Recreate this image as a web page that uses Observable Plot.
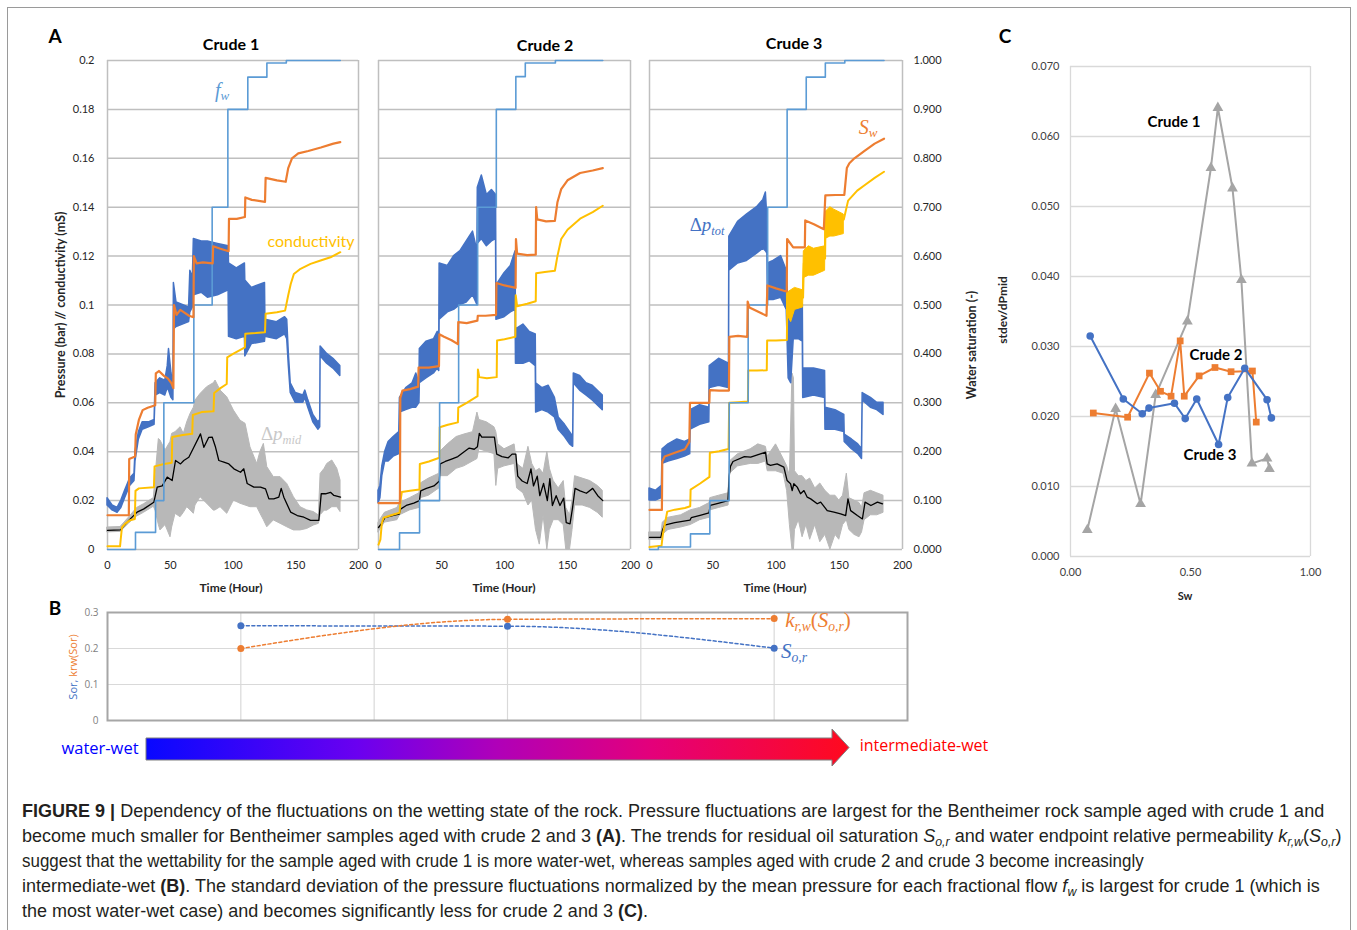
<!DOCTYPE html>
<html><head><meta charset="utf-8">
<script src="https://cdn.jsdelivr.net/npm/d3@7"></script>
<script src="https://cdn.jsdelivr.net/npm/@observablehq/plot@0.6"></script>
<style>
body{margin:0;background:#fff;}
#root{position:relative;width:1357px;height:930px;overflow:hidden;font-family:Lato,"Open Sans",sans-serif;background:#fff;}
.abs{position:absolute;white-space:nowrap;line-height:1;}
.m{font-family:"Liberation Serif","DejaVu Serif",serif;font-style:italic;}
.m sub{font-size:65%;vertical-align:-0.3em;}
</style></head><body><div id="root"></div>
<script>
// ================= DATA =================
// Panel A axes
const timeTicks = [0, 50, 100, 150, 200];
const pTicks = [0, 0.02, 0.04, 0.06, 0.08, 0.1, 0.12, 0.14, 0.16, 0.18, 0.2];
const swTicks = [0, 0.1, 0.2, 0.3, 0.4, 0.5, 0.6, 0.7, 0.8, 0.9, 1.0];

// ---- Crude 1 : [time h, value] ----
const c1Fw = [[0,0],[22.3,0.035],[38.3,0.10],[44.9,0.30],[68.8,0.50],[83.4,0.70],[95.9,0.90],[111.8,0.966],[127,0.995],[142.5,1.0],[185.5,1.0]];
const c1Sw = [[0,0.07],[17,0.07],[17.3,0.185],[22,0.19],[22.5,0.235],[25,0.265],[28,0.285],[32,0.29],[38,0.295],[38.5,0.36],[41,0.365],[45,0.355],[48,0.35],[51,0.34],[52.5,0.33],[53,0.50],[55,0.48],[58,0.49],[61,0.485],[65,0.478],[68.5,0.475],[68.8,0.60],[71,0.585],[76,0.587],[83.8,0.585],[84.2,0.62],[90,0.615],[96.5,0.61],[96.8,0.676],[103,0.676],[109.5,0.68],[109.8,0.72],[115,0.715],[125.5,0.711],[126,0.76],[135,0.755],[142,0.752],[144,0.78],[147,0.80],[152,0.81],[160,0.815],[170,0.822],[180,0.83],[185.5,0.833]];
const c1Cond = [[0,0.0013],[10,0.0013],[10.5,0.004],[11.5,0.009],[14,0.0105],[18,0.012],[21.8,0.0125],[22.3,0.024],[25,0.025],[37,0.0255],[37.5,0.034],[45,0.035],[51.2,0.0355],[51.6,0.046],[60,0.0468],[67.5,0.0473],[68,0.055],[75,0.0562],[84.5,0.0565],[85,0.064],[90,0.066],[95,0.0677],[95.4,0.0786],[100,0.080],[109.5,0.0827],[109.8,0.0882],[118,0.0885],[125.5,0.0889],[126,0.0964],[135,0.097],[141.5,0.0977],[144,0.104],[146,0.1086],[148.5,0.1127],[153.8,0.1148],[161.8,0.1168],[169.8,0.1182],[177.7,0.1195],[185.5,0.1216]];
// [time, low, high] of the fluctuating total pressure drop
const c1Ptot = [[0,0.018,0.021],[4,0.016,0.018],[8,0.015,0.017],[11,0.017,0.020],[14,0.021,0.024],[18,0.026,0.029],[21.5,0.028,0.031],[22.3,0.036,0.040],[25,0.045,0.048],[28,0.049,0.052],[33,0.050,0.052],[37.5,0.051,0.053],[38.3,0.063,0.068],[42,0.064,0.070],[46,0.063,0.069],[48,0.066,0.075],[49,0.065,0.082],[51,0.062,0.072],[52.5,0.061,0.068],[52.9,0.090,0.109],[55,0.091,0.101],[60,0.092,0.100],[65,0.093,0.099],[66,0.097,0.114],[68,0.099,0.111],[68.8,0.104,0.127],[75,0.105,0.126],[80,0.103,0.126],[88,0.104,0.125],[96.5,0.106,0.124],[96.8,0.087,0.117],[103,0.086,0.115],[109.5,0.087,0.117],[109.8,0.079,0.110],[115,0.084,0.107],[125.5,0.085,0.109],[125.8,0.087,0.094],[135,0.086,0.093],[141.5,0.088,0.095],[143.2,0.086,0.094],[144.5,0.075,0.080],[146,0.064,0.068],[150,0.060,0.064],[156,0.060,0.063],[157.6,0.062,0.065],[160,0.058,0.061],[164,0.052,0.055],[168,0.049,0.052],[169.5,0.050,0.053],[169.8,0.079,0.083],[175,0.076,0.080],[180,0.074,0.078],[185.5,0.071,0.075]];
const c1Pmid = [[0,0.0070,0.0090],[10.4,0.0072,0.0092],[17,0.0105,0.0130],[23.6,0.0135,0.0170],[29,0.0150,0.0185],[36.9,0.0175,0.0210],[38.3,0.0159,0.0300],[40.9,0.0100,0.0452],[42.2,0.0078,0.0446],[46.2,0.0100,0.0405],[50.2,0.0050,0.0440],[51.5,0.0090,0.0473],[54.2,0.0146,0.0480],[58.2,0.0132,0.0500],[60.8,0.0150,0.0473],[63.5,0.0173,0.0520],[66.2,0.0160,0.0555],[68.8,0.0146,0.0580],[70.1,0.0180,0.0609],[74.1,0.0214,0.0636],[79.4,0.0187,0.0664],[84.7,0.0159,0.0680],[86.1,0.0160,0.0691],[90.1,0.0173,0.0650],[95.4,0.0146,0.0623],[100.7,0.0200,0.0568],[106,0.0187,0.0527],[110,0.0180,0.0514],[113.9,0.0173,0.0418],[119.3,0.0173,0.0350],[121.9,0.0146,0.0400],[124.6,0.0120,0.0432],[127.3,0.0091,0.0337],[132.5,0.0119,0.0296],[137.9,0.0105,0.0296],[143.2,0.0091,0.0268],[148.5,0.0078,0.0214],[153.8,0.0078,0.0173],[159.1,0.0084,0.0160],[164.4,0.0098,0.0153],[168.4,0.0105,0.0139],[169.8,0.0140,0.0309],[173,0.0159,0.0330],[175.1,0.0159,0.0350],[179.1,0.0173,0.0364],[183.1,0.0173,0.0330],[185.7,0.0153,0.0282]];
const c1PmidAvg = [[0,0.0078],[10.4,0.008],[17,0.0119],[23.6,0.0153],[29,0.0166],[36.9,0.0193],[39.6,0.0255],[43.6,0.026],[47.6,0.0296],[51.5,0.0282],[54.2,0.0364],[58.2,0.035],[60.8,0.0364],[64.8,0.0377],[68.8,0.0418],[74.1,0.0473],[76.8,0.0418],[80.7,0.0459],[83.4,0.046],[86.1,0.0418],[88.7,0.0364],[92.7,0.0357],[96.7,0.035],[100.7,0.033],[106,0.0316],[108.6,0.033],[111.3,0.027],[116.6,0.0255],[121.9,0.0255],[125.9,0.0248],[128.6,0.0207],[132.5,0.0207],[136.5,0.0214],[138.4,0.025],[140.5,0.0214],[145.9,0.0153],[151.2,0.0139],[156.5,0.0132],[161.8,0.0119],[168.4,0.0119],[170.3,0.0228],[173.7,0.0228],[177.7,0.0234],[180.4,0.0221],[185.7,0.0214]];

// ---- Crude 2 ----
const c2Fw = [[0,0],[16.7,0.034],[32.6,0.10],[48.5,0.30],[63.6,0.50],[78.7,0.70],[93.5,0.90],[109,0.967],[116.5,0.995],[140.4,1.0],[178,1.0]];
const c2Sw = [[0,0.095],[17,0.095],[17.3,0.31],[19,0.325],[25,0.328],[31.5,0.333],[31.8,0.372],[40,0.372],[48,0.375],[48.3,0.44],[52,0.435],[58,0.428],[63,0.42],[63.3,0.465],[70,0.463],[78.5,0.468],[78.8,0.478],[85,0.478],[93.3,0.48],[93.6,0.545],[100,0.54],[108.8,0.535],[109.1,0.635],[110,0.605],[118,0.602],[124.8,0.603],[125.1,0.70],[126,0.675],[133,0.671],[140,0.672],[142,0.71],[145,0.737],[150,0.755],[160,0.77],[170,0.775],[178,0.78]];
const c2Cond = [[0,0.002],[1.5,0.004],[2.6,0.0106],[4,0.013],[10,0.014],[16.7,0.015],[17.5,0.020],[18.5,0.0235],[25,0.024],[32.5,0.0245],[32.8,0.035],[40,0.036],[48.3,0.0375],[48.6,0.050],[55,0.051],[63,0.052],[63.3,0.058],[70,0.060],[78.6,0.0627],[78.9,0.0736],[80,0.0705],[86,0.070],[93.8,0.0705],[94.1,0.0855],[100,0.086],[108.6,0.087],[108.9,0.104],[110,0.0995],[118,0.1005],[124.8,0.1015],[125.1,0.113],[132,0.1135],[140,0.114],[142,0.120],[145,0.127],[150,0.1308],[160,0.1353],[170,0.138],[178,0.1406]];
const c2Ptot = [[0,0.019,0.024],[1.5,0.021,0.026],[3,0.030,0.034],[5.3,0.036,0.040],[8,0.036,0.044],[12,0.038,0.046],[16.5,0.039,0.048],[17,0.056,0.062],[22,0.057,0.066],[27,0.058,0.068],[30,0.058,0.072],[32.5,0.060,0.068],[32.8,0.068,0.082],[38,0.070,0.085],[44,0.072,0.086],[47,0.074,0.089],[48.2,0.073,0.082],[48.5,0.094,0.117],[55,0.097,0.116],[60,0.098,0.120],[65,0.100,0.122],[70,0.101,0.126],[75,0.104,0.130],[78.5,0.100,0.122],[78.8,0.125,0.148],[82,0.127,0.153],[86,0.124,0.145],[90,0.126,0.147],[93.3,0.127,0.145],[93.6,0.094,0.108],[100,0.095,0.113],[105,0.097,0.116],[108.8,0.098,0.122],[109.1,0.076,0.090],[115,0.076,0.092],[120,0.077,0.089],[124.8,0.075,0.088],[125.1,0.056,0.068],[130,0.057,0.066],[135,0.056,0.067],[140,0.054,0.062],[143,0.049,0.054],[148,0.046,0.051],[152,0.043,0.048],[154.5,0.042,0.046],[155,0.068,0.072],[160,0.065,0.071],[165,0.063,0.068],[170,0.061,0.067],[178,0.057,0.063]];
const c2Pmid = [[0,0.007,0.011],[5,0.011,0.015],[15,0.012,0.017],[17,0.014,0.019],[25,0.016,0.021],[32.5,0.017,0.023],[33.5,0.021,0.027],[40,0.022,0.029],[48.3,0.025,0.031],[49,0.030,0.040],[55,0.030,0.043],[62,0.033,0.046],[68,0.034,0.047],[75,0.036,0.048],[78.5,0.037,0.056],[80,0.041,0.053],[86,0.040,0.052],[92,0.039,0.050],[93.5,0.026,0.048],[95,0.033,0.043],[100,0.034,0.041],[108,0.035,0.043],[110,0.025,0.035],[115,0.023,0.033],[119,0.018,0.042],[122,0.020,0.035],[125,0.008,0.032],[128,0.002,0.033],[131,0.014,0.031],[134,0.0,0.040],[136,0.008,0.033],[139,0.012,0.028],[143,0.012,0.025],[147,0.010,0.028],[149,0.0,0.017],[152,0.0,0.014],[154,0.008,0.020],[156,0.018,0.030],[162,0.018,0.029],[168,0.017,0.028],[174,0.015,0.026],[178,0.013,0.024]];
const c2PmidAvg = [[0,0.009],[3,0.011],[5,0.013],[12,0.014],[16.5,0.0145],[17.5,0.0165],[22,0.018],[28,0.019],[32.5,0.020],[33.5,0.024],[38,0.025],[44,0.026],[48.3,0.028],[49,0.035],[53,0.036],[58,0.037],[63,0.038],[68,0.040],[72,0.0415],[76,0.041],[78.5,0.042],[80,0.0475],[82,0.046],[86,0.046],[92,0.046],[93.8,0.039],[98,0.038],[103,0.0375],[106,0.039],[109,0.039],[110.5,0.030],[114,0.028],[118,0.027],[121,0.033],[123,0.026],[126,0.030],[128,0.022],[131,0.027],[134,0.020],[136,0.029],[138,0.018],[141,0.022],[144,0.018],[147,0.021],[149,0.011],[152,0.0105],[154,0.017],[156,0.025],[160,0.024],[165,0.023],[170,0.025],[174,0.022],[178,0.020]];

// ---- Crude 3 ----
const c3Fw = [[0,0],[7,0.005],[32.4,0.032],[47.7,0.10],[63,0.30],[78,0.50],[93.4,0.70],[108.8,0.90],[123.9,0.966],[139,0.995],[154.4,1.0],[185.4,1.0]];
const c3Sw = [[0,0.081],[9.8,0.081],[10.1,0.18],[12,0.19],[20,0.198],[28,0.205],[31.5,0.22],[32,0.30],[40,0.30],[47.3,0.30],[47.6,0.326],[55,0.325],[62.8,0.325],[63.1,0.435],[70,0.437],[77.3,0.435],[77.6,0.507],[79,0.495],[86,0.486],[92.5,0.478],[93.2,0.54],[100,0.534],[106.2,0.529],[108.5,0.528],[108.8,0.635],[113.6,0.618],[122.8,0.618],[123.1,0.673],[130,0.665],[137.8,0.655],[139,0.724],[147,0.725],[154,0.725],[156,0.78],[158,0.79],[162,0.80],[170,0.815],[178,0.83],[185.4,0.84]];
const c3Cond = [[0,0.001],[9.5,0.0015],[10.5,0.006],[11.5,0.0086],[14,0.0155],[20,0.0163],[28,0.017],[32.2,0.0177],[32.5,0.0245],[40,0.027],[47.4,0.0297],[47.7,0.0396],[55,0.0402],[61.5,0.041],[62.5,0.041],[63,0.060],[70,0.0602],[77.8,0.0605],[78.1,0.0732],[85,0.0732],[92.7,0.0733],[93,0.0855],[100,0.0855],[108.6,0.0857],[108.9,0.100],[115,0.102],[121.4,0.103],[122,0.117],[130,0.118],[138.8,0.119],[139.1,0.133],[146,0.134],[153.6,0.135],[157,0.1427],[164.2,0.1468],[170,0.149],[178,0.152],[185.4,0.1545]];
const c3CondNoise = [[108.9,0.096,0.105],[112,0.093,0.106],[115,0.098,0.107],[121.4,0.099,0.106],[122,0.111,0.122],[126,0.112,0.124],[130,0.112,0.123],[138.8,0.114,0.124],[139.1,0.127,0.138],[143,0.128,0.140],[146,0.128,0.139],[153.6,0.129,0.137]];
const c3Ptot = [[0,0.020,0.025],[5,0.020,0.024],[9.8,0.021,0.026],[10.3,0.035,0.041],[15,0.036,0.043],[22,0.037,0.045],[28,0.038,0.044],[32.2,0.039,0.045],[32.5,0.049,0.057],[40,0.051,0.059],[47.3,0.052,0.058],[47.6,0.066,0.075],[55,0.067,0.078],[62.8,0.066,0.076],[63.1,0.114,0.128],[70,0.117,0.134],[77,0.118,0.137],[85,0.121,0.140],[90,0.123,0.143],[92,0.122,0.146],[93.2,0.121,0.135],[93.5,0.102,0.117],[98,0.102,0.118],[104,0.103,0.120],[108.5,0.098,0.114],[110,0.070,0.098],[112,0.068,0.102],[114,0.086,0.100],[118,0.086,0.102],[121.2,0.085,0.100],[121.5,0.062,0.074],[130,0.063,0.074],[138.8,0.062,0.073],[139.1,0.049,0.058],[147,0.049,0.057],[154,0.048,0.055],[154.3,0.044,0.047],[160,0.041,0.045],[165,0.039,0.043],[168,0.037,0.041],[168.5,0.061,0.064],[175,0.058,0.062],[180,0.057,0.060],[185,0.055,0.060]];
const c3Pmid = [[0,0.004,0.007],[9.5,0.004,0.007],[10.5,0.006,0.011],[15,0.008,0.013],[25,0.009,0.014],[32.5,0.010,0.016],[40,0.012,0.017],[47.5,0.013,0.019],[48,0.016,0.021],[55,0.017,0.022],[62.5,0.018,0.023],[63.5,0.031,0.036],[70,0.034,0.039],[80,0.035,0.041],[86,0.035,0.043],[92,0.036,0.042],[93.5,0.032,0.038],[100,0.032,0.043],[106,0.031,0.037],[108.8,0.024,0.034],[111,0.010,0.030],[113,0.000,0.072],[114.2,0.000,0.070],[115,0.008,0.032],[118,0.012,0.030],[121,0.005,0.030],[124,0.010,0.028],[127,0.004,0.029],[131,0.010,0.025],[135,0.003,0.027],[139,0.006,0.024],[143,0.000,0.022],[147,0.006,0.022],[150,0.004,0.020],[153,0.010,0.022],[156,0.012,0.031],[158,0.008,0.021],[162,0.006,0.020],[166,0.005,0.019],[168,0.007,0.017],[170,0.012,0.023],[175,0.014,0.024],[180,0.014,0.023],[185,0.015,0.022]];
const c3PmidAvg = [[0,0.005],[9,0.005],[10.3,0.008],[12,0.010],[20,0.011],[32,0.012],[33,0.013],[40,0.014],[47,0.015],[48,0.018],[55,0.019],[62,0.020],[63,0.030],[64,0.034],[66,0.036],[75,0.038],[80,0.0378],[87.7,0.0391],[91.7,0.0398],[93,0.035],[95.6,0.0344],[100.9,0.035],[106.2,0.0337],[108.8,0.0282],[111.5,0.0269],[112.8,0.0241],[114.1,0.0269],[116.8,0.0255],[119.4,0.0228],[122.1,0.0241],[124.7,0.0214],[127.4,0.0207],[132.6,0.0187],[135.3,0.0194],[140.5,0.0159],[145.8,0.0153],[151.1,0.0146],[155.1,0.0139],[156.9,0.0207],[159,0.0159],[164.3,0.0139],[168.3,0.0125],[170.4,0.0194],[175,0.018],[180.2,0.0194],[184.2,0.0187]];

// Panel B: wettability trend (positions on an unlabelled axis 0..6)
const bPos = [1, 3, 5];
const bSor = [0.263, 0.262, 0.201];
const bKrw = [0.200, 0.281, 0.283];
const bTicks = [0, 0.1, 0.2, 0.3];

// Panel C: stdev/dPmid vs Sw
const cSw1 = [0.070,0.188,0.292,0.355,0.487,0.585,0.614,0.675,0.712,0.756,0.819,0.829];
const cSd1 = [0.0038,0.0211,0.0075,0.0231,0.0336,0.0555,0.0641,0.0526,0.0395,0.0133,0.0140,0.0125];
const cSw2 = [0.095,0.238,0.329,0.375,0.419,0.457,0.474,0.536,0.602,0.669,0.758,0.774];
const cSd2 = [0.0205,0.0199,0.0262,0.0236,0.0229,0.0308,0.0229,0.0258,0.0270,0.0264,0.0265,0.0192];
const cSw3 = [0.082,0.220,0.299,0.327,0.433,0.478,0.526,0.617,0.655,0.726,0.819,0.837];
const cSd3 = [0.0315,0.0225,0.0204,0.0212,0.0219,0.0197,0.0225,0.0160,0.0227,0.0269,0.0224,0.0198];
const cXTicks = [0, 0.5, 1];
const cYTicks = [0, 0.01, 0.02, 0.03, 0.04, 0.05, 0.06, 0.07];

// ================= STYLE =================
const FONT = 'Lato, "Open Sans", sans-serif';
const BLUE = "#4472C4", LBLUE = "#5B9BD5", ORANGE = "#ED7D31", YELLOW = "#FFC000", GRAYN = "#B8B8B8", GRID = "#BFBFBF";
const root = document.getElementById("root");

function put(node, left, top) {
  node.style.position = "absolute";
  node.style.left = left + "px";
  node.style.top = top + "px";
  root.appendChild(node);
  return node;
}
function lab(html, cx, cy, css, rot) {
  const d = document.createElement("div");
  d.className = "abs";
  d.innerHTML = html;
  d.style.cssText += css || "";
  d.style.left = cx + "px";
  d.style.top = cy + "px";
  d.style.transform = "translate(-50%,-50%)" + (rot ? " rotate(" + rot + "deg)" : "");
  root.appendChild(d);
  return d;
}
const X = d => d[0], Y = d => d[1], Y1 = d => d[1], Y2 = d => d[2];
const fmtP = d => String(+d.toFixed(2));

// ================= PANEL A =================
const FT = 60, FH = 489;
function panelA(cfg) {
  const w = cfg.x1 - cfg.x0;
  const ML = cfg.leftAxis ? 60 : 8, MR = 8, MT = 10, MB = 40;
  const p = Plot.plot({
    width: ML + w + MR, height: MT + FH + MB,
    marginLeft: ML, marginRight: MR, marginTop: MT, marginBottom: MB,
    style: {background: "transparent", fontFamily: FONT, fontSize: "11px", color: "#262626", overflow: "visible"},
    x: {domain: [0, 200], ticks: timeTicks, tickSize: 0, tickPadding: 12, label: null},
    y: {domain: [0, 0.2], ticks: pTicks, tickSize: 0, tickPadding: 13, label: null, tickFormat: fmtP, axis: cfg.leftAxis ? "left" : null},
    marks: [
      Plot.ruleY(pTicks, {stroke: GRID, strokeWidth: 1.5}),
      Plot.ruleX([0, 200], {stroke: GRID, strokeWidth: 1.5}),
      Plot.areaY(cfg.pmid, {x: X, y1: Y1, y2: Y2, fill: GRAYN, stroke: GRAYN, strokeWidth: 1}),
      Plot.line(cfg.pmidAvg, {x: X, y: Y, stroke: "#000", strokeWidth: 1.3}),
      Plot.areaY(cfg.ptot, {x: X, y1: Y1, y2: Y2, fill: BLUE, stroke: BLUE, strokeWidth: 1.5}),
      cfg.condNoise ? Plot.areaY(cfg.condNoise, {x: X, y1: Y1, y2: Y2, fill: YELLOW, stroke: YELLOW, strokeWidth: 1}) : null,
      Plot.line(cfg.cond, {x: X, y: Y, stroke: YELLOW, strokeWidth: 2})
    ]
  });
  put(p, cfg.x0 - ML, FT - MT);
  const MR2 = cfg.rightAxis ? 60 : 8;
  const o = Plot.plot({
    width: 8 + w + MR2, height: MT + FH + MB,
    marginLeft: 8, marginRight: MR2, marginTop: MT, marginBottom: MB,
    style: {background: "transparent", fontFamily: FONT, fontSize: "11px", color: "#262626", overflow: "visible"},
    x: {domain: [0, 200], axis: null},
    y: {domain: [0, 1], ticks: swTicks, tickFormat: d3.format(".3f"), tickSize: 0, tickPadding: 11, label: null, axis: cfg.rightAxis ? "right" : null},
    marks: [
      Plot.line(cfg.fw, {x: X, y: Y, curve: "step-after", stroke: LBLUE, strokeWidth: 1.6}),
      Plot.line(cfg.sw, {x: X, y: Y, stroke: ORANGE, strokeWidth: 2.2})
    ]
  });
  put(o, cfg.x0 - 8, FT - MT);
}
panelA({x0: 107, x1: 358, leftAxis: true, fw: c1Fw, sw: c1Sw, cond: c1Cond, ptot: c1Ptot, pmid: c1Pmid, pmidAvg: c1PmidAvg});
panelA({x0: 378, x1: 630, fw: c2Fw, sw: c2Sw, cond: c2Cond, ptot: c2Ptot, pmid: c2Pmid, pmidAvg: c2PmidAvg});
panelA({x0: 649, x1: 902, rightAxis: true, fw: c3Fw, sw: c3Sw, cond: c3Cond, condNoise: c3CondNoise, ptot: c3Ptot, pmid: c3Pmid, pmidAvg: c3PmidAvg});

// ================= PANEL B =================
(function () {
  const sor = bPos.map((x, i) => ({x, v: bSor[i]}));
  const krw = bPos.map((x, i) => ({x, v: bKrw[i]}));
  const ML = 30, MR = 10, MT = 8, MB = 8, W = 800, H = 108;
  const p = Plot.plot({
    width: ML + W + MR, height: MT + H + MB,
    marginLeft: ML, marginRight: MR, marginTop: MT, marginBottom: MB,
    style: {background: "transparent", fontFamily: '"Open Sans", sans-serif', fontSize: "10px", color: "#7F7F7F", overflow: "visible"},
    x: {domain: [0, 6], axis: null},
    y: {domain: [0, 0.3], ticks: bTicks, tickSize: 0, tickPadding: 9, label: null, tickFormat: d => d === 0 ? "0" : d.toFixed(1)},
    marks: [
      Plot.ruleY([0.1, 0.2], {stroke: "#D9D9D9", strokeWidth: 1.2}),
      Plot.ruleX([1, 2, 3, 4, 5], {stroke: "#D9D9D9", strokeWidth: 1.2}),
      Plot.frame({stroke: "#A6A6A6", strokeWidth: 2}),
      Plot.line(sor, {x: "x", y: "v", stroke: BLUE, strokeWidth: 1.5, strokeDasharray: "3,2.5", curve: "monotone-x"}),
      Plot.line(krw, {x: "x", y: "v", stroke: ORANGE, strokeWidth: 1.5, strokeDasharray: "3,2.5", curve: "monotone-x"}),
      Plot.dot(sor, {x: "x", y: "v", r: 3.5, fill: BLUE}),
      Plot.dot(krw, {x: "x", y: "v", r: 3.5, fill: ORANGE})
    ]
  });
  put(p, 107 - ML, 612 - MT);
})();

// ================= PANEL C =================
(function () {
  const s1 = cSw1.map((x, i) => ({x, y: cSd1[i]}));
  const s2 = cSw2.map((x, i) => ({x, y: cSd2[i]}));
  const s3 = cSw3.map((x, i) => ({x, y: cSd3[i]}));
  const ML = 60, MR = 20, MT = 10, MB = 45, W = 240, H = 490;
  const p = Plot.plot({
    width: ML + W + MR, height: MT + H + MB,
    marginLeft: ML, marginRight: MR, marginTop: MT, marginBottom: MB,
    style: {background: "transparent", fontFamily: FONT, fontSize: "11px", color: "#404040", overflow: "visible"},
    x: {domain: [0, 1], ticks: cXTicks, tickFormat: d3.format(".2f"), tickSize: 0, tickPadding: 12, label: null},
    y: {domain: [0, 0.07], ticks: cYTicks, tickFormat: d3.format(".3f"), tickSize: 0, tickPadding: 11, label: null},
    marks: [
      Plot.ruleY(cYTicks, {stroke: "#D9D9D9", strokeWidth: 1.3}),
      Plot.ruleX([0, 1], {stroke: "#D9D9D9", strokeWidth: 1.3}),
      Plot.line(s1, {x: "x", y: "y", stroke: "#A5A5A5", strokeWidth: 2}),
      Plot.dot(s1, {x: "x", y: "y", symbol: "triangle", r: 4, fill: "#A5A5A5"}),
      Plot.line(s2, {x: "x", y: "y", stroke: ORANGE, strokeWidth: 2}),
      Plot.dot(s2, {x: "x", y: "y", symbol: "square", r: 3.8, fill: ORANGE}),
      Plot.line(s3, {x: "x", y: "y", stroke: BLUE, strokeWidth: 2}),
      Plot.dot(s3, {x: "x", y: "y", symbol: "circle", r: 3.8, fill: BLUE})
    ]
  });
  put(p, 1070 - ML, 66 - MT);
})();

// ================= TEXT / DECORATION =================
const border = document.createElement("div");
border.style.cssText = "border:1px solid #9a9a9a;width:1342px;height:1000px;";
put(border, 7, 7);

lab("A", 55, 35, "font:bold 19px Lato,sans-serif;color:#000;");
lab("B", 55, 607, "font:bold 19px Lato,sans-serif;color:#000;");
lab("C", 1005, 35, "font:bold 19px Lato,sans-serif;color:#000;");
lab("Crude 1", 231, 43, "font:bold 16px Lato,sans-serif;color:#000;");
lab("Crude 2", 545, 44, "font:bold 16px Lato,sans-serif;color:#000;");
lab("Crude 3", 794, 42, "font:bold 16px Lato,sans-serif;color:#000;");
["231", "504", "775"].forEach(cx => lab("Time (Hour)", +cx, 587, "font:bold 12px Lato,sans-serif;color:#262626;"));
lab("Pressure (bar) // conductivity (mS)", 60, 305, "font:bold 12.5px Lato,sans-serif;color:#262626;", -90);
lab("Water saturation (-)", 971, 345, "font:bold 12.5px Lato,sans-serif;color:#262626;", -90);
lab('f<sub>w</sub>', 222, 91, "font-size:20px;color:" + LBLUE + ";", 0).classList.add("m");
lab("conductivity", 311, 240, "font:16px Lato,sans-serif;color:" + YELLOW + ";");
lab('<span style="font-style:normal">Δ</span>p<sub>mid</sub>', 281, 435, "font-size:19px;color:#C8C8C8;").classList.add("m");
lab('<span style="font-style:normal">Δ</span>p<sub>tot</sub>', 707, 226, "font-size:19px;color:" + BLUE + ";").classList.add("m");
lab('S<sub>w</sub>', 868, 128, "font-size:20px;color:" + ORANGE + ";").classList.add("m");

lab("Crude 1", 1174, 121, "font:bold 15px Lato,sans-serif;color:#000;");
lab("Crude 2", 1216, 354, "font:bold 15px Lato,sans-serif;color:#000;");
lab("Crude 3", 1210, 454, "font:bold 15px Lato,sans-serif;color:#000;");
lab("stdev/dPmid", 1002, 310, "font:bold 12px Lato,sans-serif;color:#262626;", -90);
lab("Sw", 1185, 595, "font:bold 11px Lato,sans-serif;color:#262626;");

lab('<span style="color:' + BLUE + '">Sor,</span> <span style="color:' + ORANGE + '">krw(Sor)</span>', 72, 667, 'font:11px "Open Sans",sans-serif;', -90);
lab('k<sub>r,w</sub><span style="font-style:normal">(</span>S<sub>o,r</sub><span style="font-style:normal">)</span>', 818, 622, "font-size:21px;color:" + ORANGE + ";").classList.add("m");
lab('S<sub>o,r</sub>', 794, 653, "font-size:21px;color:" + BLUE + ";").classList.add("m");

lab("water-wet", 100, 747, 'font:16.5px "Open Sans",sans-serif;color:#0000FF;');
lab("intermediate-wet", 924, 745, 'font:16px "Open Sans",sans-serif;color:#FF0000;');

// gradient arrow
const NS = "http://www.w3.org/2000/svg";
const arr = document.createElementNS(NS, "svg");
arr.setAttribute("width", 720); arr.setAttribute("height", 48);
arr.innerHTML = '<defs><linearGradient id="wg" x1="0" x2="1" y1="0" y2="0">' +
  '<stop offset="0" stop-color="#0808FF"/><stop offset="0.3" stop-color="#6A00F0"/>' +
  '<stop offset="0.5" stop-color="#B000B8"/><stop offset="0.72" stop-color="#E4007A"/>' +
  '<stop offset="1" stop-color="#FF0A1E"/></linearGradient></defs>' +
  '<path d="M6,14 H692 V5 L709,23.5 L692,42 V36 H6 Z" fill="url(#wg)" stroke="#7F7F7F" stroke-width="1"/>';
put(arr, 140, 724);

// caption
const cap = document.createElementNS(NS, "svg");
cap.setAttribute("width", 1357); cap.setAttribute("height", 140);
const it = s => '<tspan font-style="italic">' + s + '</tspan>';
const bd = s => '<tspan font-weight="bold">' + s + '</tspan>';
const sb = (s, after) => '<tspan font-style="italic" font-size="12" dy="4">' + s + '</tspan><tspan dy="-4">' + after + '</tspan>';
const lines = [
  [1311, bd("FIGURE 9 |") + " Dependency of the fluctuations on the wetting state of the rock. Pressure fluctuations are largest for the Bentheimer rock sample aged with crude 1 and"],
  [1319, "become much smaller for Bentheimer samples aged with crude 2 and 3 " + bd("(A)") + ". The trends for residual oil saturation " + it("S") + sb("o,r", " and water endpoint relative permeability ") + it("k") + sb("r,w", "(") + it("S") + sb("o,r", ")")],
  [1089, "suggest that the wettability for the sample aged with crude 1 is more water-wet, whereas samples aged with crude 2 and crude 3 become increasingly"],
  [1298, "intermediate-wet " + bd("(B)") + ". The standard deviation of the pressure fluctuations normalized by the mean pressure for each fractional flow " + it("f") + sb("w", " is largest for crude 1 (which is")],
  [626, "the most water-wet case) and becomes significantly less for crude 2 and 3 " + bd("(C)") + "."]
];
cap.innerHTML = lines.map((l, i) => '<text x="22" y="' + (27 + 25 * i) + '" font-family="Liberation Sans, Arial, sans-serif" font-size="17.5" fill="#231F20">' + l[1] + '</text>').join("");
put(cap, 0, 790);
// uniform horizontal condensation so every line uses the same narrow face
const texts = Array.from(cap.querySelectorAll("text"));
const nat = texts.map(t => t.getComputedTextLength());
const ratio = d3.median(nat.map((n, i) => lines[i][0] / n));
texts.forEach((t, i) => {
  let L = nat[i] * ratio;
  L = Math.max(lines[i][0] * 0.97, Math.min(lines[i][0] * 1.03, L));
  t.setAttribute("textLength", L.toFixed(1));
  t.setAttribute("lengthAdjust", "spacingAndGlyphs");
});
</script></body></html>
